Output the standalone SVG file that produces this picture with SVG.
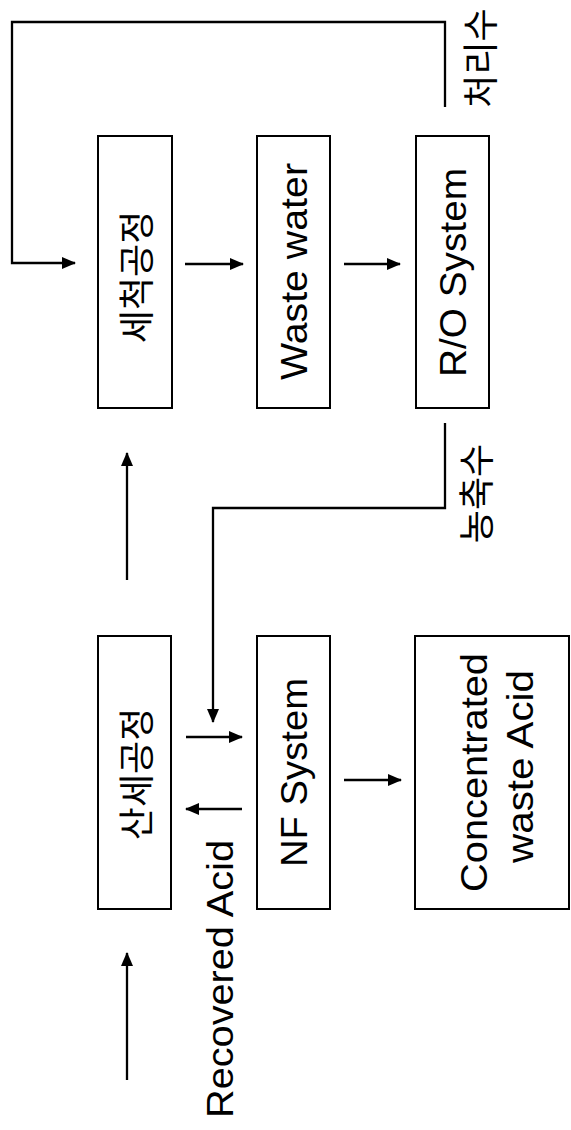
<svg xmlns="http://www.w3.org/2000/svg" width="571" height="1130" viewBox="0 0 571 1130">
<style>
.box{fill:#fff;stroke:#000;stroke-width:2}
.con{fill:none;stroke:#000;stroke-width:2.3}
.en{font-family:"Liberation Sans",Arial,sans-serif;font-size:37px;fill:#000;text-anchor:middle}
.ko{font-family:"Noto Sans CJK KR","Noto Sans CJK SC",sans-serif;font-size:36px;fill:#000;text-anchor:middle}
</style>
<defs>
<marker id="ah" viewBox="0 0 14 12" refX="13" refY="6" markerWidth="14" markerHeight="12" markerUnits="userSpaceOnUse" orient="auto">
<path d="M0,0 L14,6 L0,12 z" fill="#000"/>
</marker>
</defs>
<rect width="571" height="1130" fill="#fff"/>
<g id="connectors">
<path class="con" d="M445,107 V22 H12 V263 H75" marker-end="url(#ah)"/>
<path class="con" d="M185,264 H243" marker-end="url(#ah)"/>
<path class="con" d="M344,264 H400" marker-end="url(#ah)"/>
<path class="con" d="M127,580 V453" marker-end="url(#ah)"/>
<path class="con" d="M445,423 V508 H213 V722" marker-end="url(#ah)"/>
<path class="con" d="M186,737 H242" marker-end="url(#ah)"/>
<path class="con" d="M242,809 H186" marker-end="url(#ah)"/>
<path class="con" d="M344,780 H401" marker-end="url(#ah)"/>
<path class="con" d="M127,1080 V953" marker-end="url(#ah)"/>
</g>
<g id="washing">
<rect class="box" x="98" y="136" width="74" height="272"/>
<text class="ko" transform="translate(150,277) rotate(-90)">세척공정</text>
</g>
<g id="wastewater">
<rect class="box" x="257" y="136" width="73" height="272"/>
<text class="en" transform="translate(307,271.5) rotate(-90)" textLength="217" lengthAdjust="spacingAndGlyphs">Waste water</text>
</g>
<g id="ro">
<rect class="box" x="416" y="136" width="73" height="272"/>
<text class="en" transform="translate(466,272.5) rotate(-90)" textLength="209" lengthAdjust="spacingAndGlyphs">R/O System</text>
</g>
<g id="pickling">
<rect class="box" x="98" y="636" width="73" height="273"/>
<text class="ko" transform="translate(150,774) rotate(-90)">산세공정</text>
</g>
<g id="nf">
<rect class="box" x="257" y="636" width="73" height="273"/>
<text class="en" transform="translate(307,772.5) rotate(-90)" textLength="189" lengthAdjust="spacingAndGlyphs">NF System</text>
</g>
<g id="concentrated">
<rect class="box" x="415" y="636" width="154" height="273"/>
<text class="en" transform="translate(487,772.5) rotate(-90)" textLength="239" lengthAdjust="spacingAndGlyphs">Concentrated</text>
<text class="en" transform="translate(533,766.5) rotate(-90)" textLength="193" lengthAdjust="spacingAndGlyphs">waste Acid</text>
</g>
<g id="labels">
<text class="ko" transform="translate(494,58) rotate(-90)">처리수</text>
<text class="ko" transform="translate(490,493.5) rotate(-90)">농축수</text>
<text class="en" transform="translate(233,979) rotate(-90)" textLength="278" lengthAdjust="spacingAndGlyphs">Recovered Acid</text>
</g>
</svg>
